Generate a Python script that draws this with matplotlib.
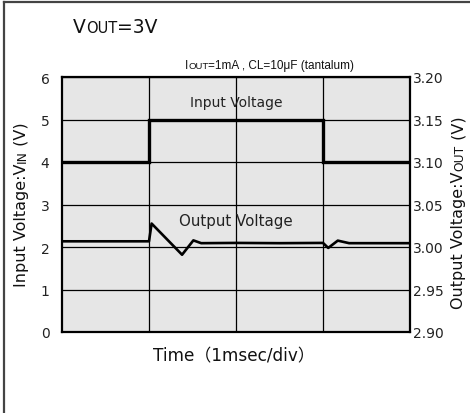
import matplotlib
matplotlib.use("Agg")
import matplotlib.pyplot as plt
from matplotlib.lines import Line2D

plt.rcParams["font.family"] = ["DejaVu Sans", "Noto Sans CJK JP"]

# time axis: 1 msec/div, 4 divisions
vin_time = [0, 1, 1, 3, 3, 4]
vin_values = [4, 4, 5, 5, 4, 4]

vout_time = [0, 1.0, 1.03, 1.38, 1.51, 1.6, 2.0, 2.5, 3.0, 3.06, 3.17, 3.3, 4.0]
vout_values = [3.0067, 3.0067, 3.0276, 2.9909, 3.0078, 3.0045, 3.0048, 3.0045,
               3.0048, 2.9989, 3.0075, 3.0045, 3.0045]

left_ticks = [0, 1, 2, 3, 4, 5, 6]
right_ticks = [2.90, 2.95, 3.00, 3.05, 3.10, 3.15, 3.20]
right_labels = ["2.90", "2.95", "3.00", "3.05", "3.10", "3.15", "3.20"]


def _chain_text(ax, x, y, pieces, rotation=0, family=None):
    """Draw text pieces one after another on a shared baseline (figure fraction)."""
    prev = None
    for text, size in pieces:
        kw = dict(fontsize=size, color="#111111", rotation=rotation,
                  rotation_mode="anchor", ha="left", va="baseline",
                  annotation_clip=False)
        if family:
            kw["family"] = family
        if prev is None:
            prev = ax.annotate(text, xy=(x, y), xycoords="figure fraction", **kw)
        elif rotation == 0:
            prev = ax.annotate(text, xy=(1, y), xycoords=(prev, "figure fraction"), **kw)
        else:
            prev = ax.annotate(text, xy=(x, 1), xycoords=("figure fraction", prev), **kw)
    return prev


fig = plt.figure(figsize=(4.7, 4.14), dpi=100)
fig.patch.set_facecolor("white")

# outer frame (left and top edges)
fig.add_artist(Line2D([4 / 470, 4 / 470], [0, 1 - 3 / 414], transform=fig.transFigure,
                      color="#444444", lw=1.6))
fig.add_artist(Line2D([4 / 470, 1], [1 - 3 / 414, 1 - 3 / 414], transform=fig.transFigure,
                      color="#444444", lw=1.6))

ax = fig.add_axes([62 / 470, 1 - 333 / 414, 348 / 470, 255 / 414])
ax.set_facecolor("#e6e6e6")
ax.set_xlim(0, 4)
ax.set_ylim(0, 6)
ax.set_xticks([1, 2, 3])
ax.set_yticks(left_ticks)
ax.grid(True, color="black", lw=0.9)
ax.tick_params(axis="x", length=0, labelbottom=False)
ax.tick_params(axis="y", length=0, pad=9, labelsize=10, labelcolor="#222222")
for s in ax.spines.values():
    s.set_linewidth(1.6)
    s.set_color("black")

ax.plot(vin_time, vin_values, color="black", lw=2.4, solid_joinstyle="miter", zorder=3)

ax2 = ax.twinx()
ax2.set_ylim(2.90, 3.20)
ax2.set_yticks(right_ticks)
ax2.set_yticklabels(right_labels)
ax2.tick_params(axis="y", length=0, pad=2, labelsize=10, labelcolor="#222222")
for s in ax2.spines.values():
    s.set_visible(False)
ax2.plot(vout_time, vout_values, color="black", lw=1.9, zorder=3)

ax.text(2, 5.41, "Input Voltage", ha="center", va="center", fontsize=10, color="#222222")
ax.text(2, 2.63, "Output Voltage", ha="center", va="center", fontsize=10.8, color="#222222")

fig.text(234 / 470, 1 - 356 / 414, "Time\uff081msec/div\uff09", ha="center", va="center",
         fontsize=12.2, color="#111111")

# header texts with small-caps style suffixes
_chain_text(ax, 73 / 470, 1 - 33 / 414, [("V", 13.5), ("OUT", 10.5), ("=3V", 13.5)])
_chain_text(ax, 185 / 470, 1 - 69 / 414,
            [("I", 8.5), ("OUT", 6.8), ("=1mA , CL=10\u03bcF (tantalum)", 8.5)],
            family=["Liberation Sans", "DejaVu Sans"])

# axis labels (rotated, read bottom to top)
_chain_text(ax, 26 / 470, 1 - 287 / 414,
            [("Input Voltage:V", 11.5), ("IN", 8.8), (" (V)", 11.5)], rotation=90)
_chain_text(ax, 463 / 470, 1 - 309 / 414,
            [("Output Voltage:V", 11.5), ("OUT", 8.8), (" (V)", 11.5)], rotation=90)

fig.savefig("out.png", dpi=100)
